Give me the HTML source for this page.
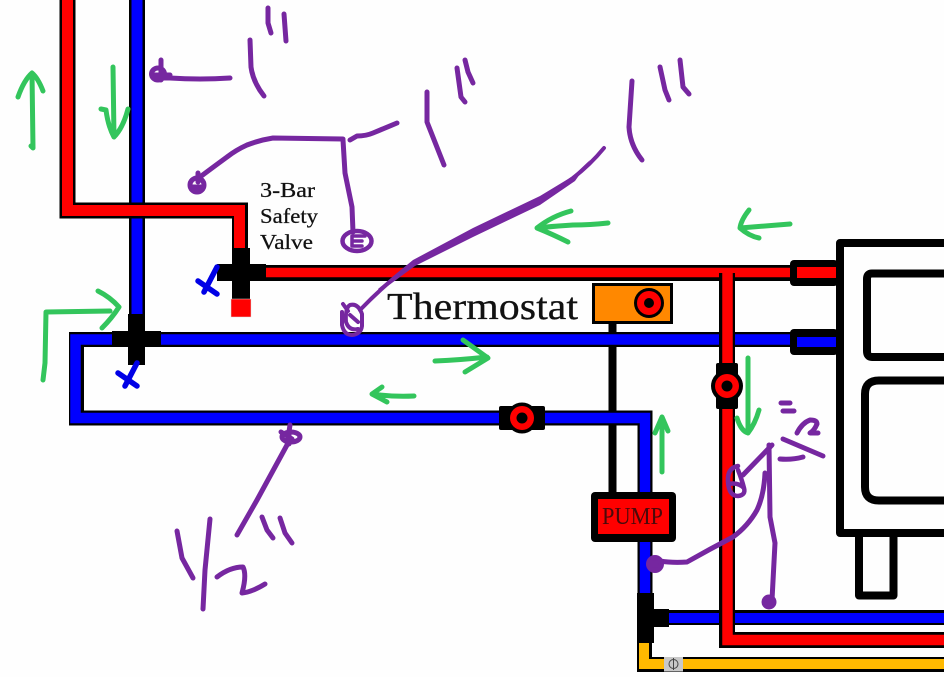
<!DOCTYPE html>
<html lang="en">
<head>
<meta charset="utf-8">
<title>Heating pipe diagram</title>
<style>
html,body{margin:0;padding:0;background:#fefefe;width:944px;height:677px;overflow:hidden}
svg{display:block}
text{font-family:"Liberation Serif",serif;fill:#111;stroke:#111;stroke-width:.25}
.g{fill:none;stroke:#33c55c;stroke-width:5;stroke-linecap:round;stroke-linejoin:round}
.p{fill:none;stroke:#7627a0;stroke-width:5;stroke-linecap:round;stroke-linejoin:round}
.k{fill:none;stroke:#000;stroke-linejoin:miter}
</style>
</head>
<body>
<svg width="944" height="677" viewBox="0 0 944 677" xmlns="http://www.w3.org/2000/svg">
<rect width="944" height="677" fill="#fefefe"/>

<!-- boiler -->
<g fill="none" stroke="#000" stroke-width="8" stroke-linejoin="round">
  <path d="M950 243H840V533H950"/>
  <path d="M950 273.500H872Q867 273.500 867 279V351Q867 357 872 357H950"/>
  <path d="M950 380.500H879Q865 380.500 865 394V487Q865 500.500 879 500.500H950"/>
  <path d="M859 535V595.500H893.500V535"/>
</g>

<!-- thermostat wire -->
<path d="M612.500 320V495" stroke="#000" stroke-width="8" fill="none"/>

<!-- yellow pipe -->
<path d="M644.500 640V664.500H950" class="k" stroke-width="15"/>
<path d="M644 640V664H950" fill="none" stroke="#ffb900" stroke-width="10"/>
<rect x="664" y="657" width="19" height="14.500" fill="#c8c8c8"/>
<circle cx="673.500" cy="664" r="4.500" fill="none" stroke="#444" stroke-width="1"/>
<path d="M673.500 658V670" stroke="#444" stroke-width="1"/>

<!-- blue pipes -->
<path d="M137 0V330" class="k" stroke-width="16"/>
<path d="M137 0V330" fill="none" stroke="#0000ff" stroke-width="11"/>
<path d="M795 339.500H76.500V418H645V610" class="k" stroke-width="15"/>
<path d="M795 339.500H75.500V418H645V610" fill="none" stroke="#0000ff" stroke-width="10.500"/>
<path d="M660 617.500H950" class="k" stroke-width="15"/>
<path d="M660 618H950" fill="none" stroke="#0000ff" stroke-width="10"/>

<!-- red pipes -->
<path d="M67.500 0V210.500H240V255" class="k" stroke-width="16"/>
<path d="M67.500 0V210.500H239.500V255" fill="none" stroke="#ff0000" stroke-width="11"/>
<path d="M260 273H795" class="k" stroke-width="16"/>
<path d="M260 272.500H795" fill="none" stroke="#ff0000" stroke-width="9.500"/>
<path d="M727 273V640H950" class="k" stroke-width="16"/>
<path d="M727.500 268V640H950" fill="none" stroke="#ff0000" stroke-width="10.500"/>

<!-- tee 1 -->
<rect x="232" y="248" width="18" height="51" fill="#000"/>
<rect x="217" y="264" width="49" height="17" fill="#000"/>
<rect x="231" y="299" width="20" height="18" fill="#f00" stroke="#ddd" stroke-width=".5"/>
<path d="M217 267L204 292M198 281L217 294" fill="none" stroke="#0000e6" stroke-width="5.500" stroke-linecap="round"/>

<!-- cross 2 -->
<rect x="128" y="314" width="17" height="51" fill="#000"/>
<rect x="112" y="331" width="49" height="16" fill="#000"/>
<path d="M137 363L125 386M118 373L137 386" fill="none" stroke="#0000e6" stroke-width="5.500" stroke-linecap="round"/>

<!-- bottom tee -->
<rect x="637" y="593" width="17" height="50" fill="#000"/>
<rect x="650" y="609" width="19" height="18" fill="#000"/>

<!-- boiler connectors -->
<rect x="790" y="260" width="48" height="26" rx="4" fill="#000"/>
<rect x="797" y="267" width="39" height="11" fill="#f00"/>
<rect x="790" y="329" width="48" height="26" rx="4" fill="#000"/>
<rect x="797" y="337" width="39" height="10" fill="#00f"/>

<!-- valves -->
<rect x="499" y="406" width="46" height="24" rx="2" fill="#000"/>
<circle cx="522" cy="418" r="15.500" fill="#000"/>
<circle cx="522" cy="418" r="12" fill="#f00"/>
<circle cx="522" cy="418" r="5.500" fill="#000"/>
<rect x="716" y="363" width="22" height="46" rx="2" fill="#000"/>
<circle cx="727" cy="386" r="16" fill="#000"/>
<circle cx="727" cy="386" r="12" fill="#f00"/>
<circle cx="727" cy="386" r="5.500" fill="#000"/>

<!-- thermostat -->
<rect x="593.500" y="284.500" width="78" height="38" fill="#ff8800" stroke="#000" stroke-width="3"/>
<circle cx="649" cy="303" r="15" fill="#000"/>
<circle cx="649" cy="303" r="12" fill="#f00"/>
<circle cx="649" cy="303" r="5" fill="#000"/>

<!-- pump -->
<rect x="591" y="492" width="85" height="50" rx="4" fill="#000"/>
<rect x="598" y="499" width="71" height="35" fill="#f00"/>
<text x="602" y="524" font-size="24" textLength="61" lengthAdjust="spacingAndGlyphs" style="fill:#4a0a0a;stroke:none">PUMP</text>

<!-- labels -->
<text x="260" y="197" font-size="21" textLength="55" lengthAdjust="spacingAndGlyphs">3-Bar</text>
<text x="260" y="223" font-size="21" textLength="58" lengthAdjust="spacingAndGlyphs">Safety</text>
<text x="260" y="249" font-size="21" textLength="53" lengthAdjust="spacingAndGlyphs">Valve</text>
<text x="387" y="319" font-size="38" textLength="191" lengthAdjust="spacingAndGlyphs">Thermostat</text>

<!-- green flow arrows -->
<g class="g">
  <path d="M33 148L31 146M33 148L32 73M18 97Q24 80 32 73Q38 78 43 91"/>
  <path d="M113 67L114 137M101 109L106 110Q108 126 114 137Q123 128 128 109"/>
  <path d="M43 380L45 363L46 312L110 311M98 291Q110 297 119 307Q112 318 102 328"/>
  <path d="M435 361Q460 360 487 357M463 340L488 358L465 372"/>
  <path d="M414 396Q392 397 372 394M382 387L372 394L387 402"/>
  <path d="M608 223Q590 225 573 225Q555 226 537 228M571 211Q552 216 537 228Q552 234 568 242"/>
  <path d="M790 224Q765 226 740 228M749 210Q741 220 740 228Q749 236 759 238"/>
  <path d="M748 358L748 433M737 418Q741 431 748 433Q755 424 759 410"/>
  <path d="M662 472V417M655 433L662 417L668 431"/>
</g>

<!-- purple annotations -->
<g class="p">
  <g><title>1"</title>
    <path d="M230 78Q200 80 170 78L155 78"/>
    <ellipse cx="158" cy="74" rx="6.500" ry="6"/>
    <path d="M161 60V80M153 75H170"/>
    <path d="M250 40L251 67Q253 82 264 96"/>
    <path d="M268 8L268 23L271 33"/>
    <path d="M284 14L286 41"/>
  </g>
  <g><title>1"</title>
    <path d="M200 177Q212 168 227 157Q236 150 247 145Q260 140 273 138L343 139"/>
    <circle cx="197" cy="185" r="7"/>
    <path d="M198 173V182M192 187H201"/>
    <path d="M343 140L345 173L352 207L353 232"/>
    <path d="M350 140L357 136Q366 136 373 133L397 123"/>
    <ellipse cx="357" cy="241" rx="14.500" ry="10" stroke-width="4.500"/>
    <path d="M365 236H352V246H362M352 241H362" stroke-width="3.500"/>
    <path d="M427 92L427 122L444 165"/>
    <path d="M457 68L461 97L465 102"/>
    <path d="M465 60L468 72L473 83"/>
  </g>
  <g><title>1"</title>
    <path d="M604 148Q590 165 573 178Q555 191 540 200Q505 216 473 232Q440 248 413 263Q385 284 360 310" stroke-width="4"/>
    <polygon points="590,160 573,176 540,196 473,228 413,260 378,289 381,291 415,266 473,237 540,205 575,181" fill="#7627a0" stroke="none"/>
    <path d="M343 304L348 311M342 312V325Q344 335 352 335Q361 334 362 326V314Q358 303 350 305Q345 308 346 322Q349 331 358 329M350 315L358 322" stroke-width="4"/>
    <path d="M632 81L629 127Q630 145 642 160"/>
    <path d="M660 67L665 90L669 100"/>
    <path d="M680 60L683 87L689 94"/>
  </g>
  <g><title>1/2"</title>
    <path d="M290 425L287 445L257 500L237 535"/>
    <ellipse cx="291" cy="437" rx="9" ry="5"/>
    <path d="M281 432L292 439M289 444V432"/>
    <path d="M177 531L182 558L193 578"/>
    <path d="M210 519L205 570L203 609"/>
    <path d="M217 577Q230 567 243 567Q247 575 242 593Q252 592 265 584"/>
    <path d="M262 517L267 530L273 538"/>
    <path d="M280 518L285 533L292 543"/>
  </g>
  <g><title>1/2"</title>
    <path d="M772 445L743 475"/>
    <path d="M738 466Q727 468 728 482Q729 496 738 496Q746 495 744 488Q738 482 729 484M738 470Q742 480 744 488" stroke-width="4.500"/>
    <path d="M765 473Q764 495 757 510Q748 526 733 537Q710 549 687 562Q672 563 660 561"/>
    <circle cx="655" cy="564" r="6.500" fill="#7627a0"/>
    <path d="M769 445L770 517L775 543L772 600"/>
    <circle cx="769" cy="602" r="5" fill="#7627a0"/>
    <path d="M781 403H790M783 411H794"/>
    <path d="M797 433Q802 423 810 420Q817 420 817 424Q814 431 810 433L818 433"/>
    <path d="M783 439L823 456"/>
    <path d="M780 459Q792 460 803 457"/>
  </g>
</g>
</svg>
</body>
</html>
